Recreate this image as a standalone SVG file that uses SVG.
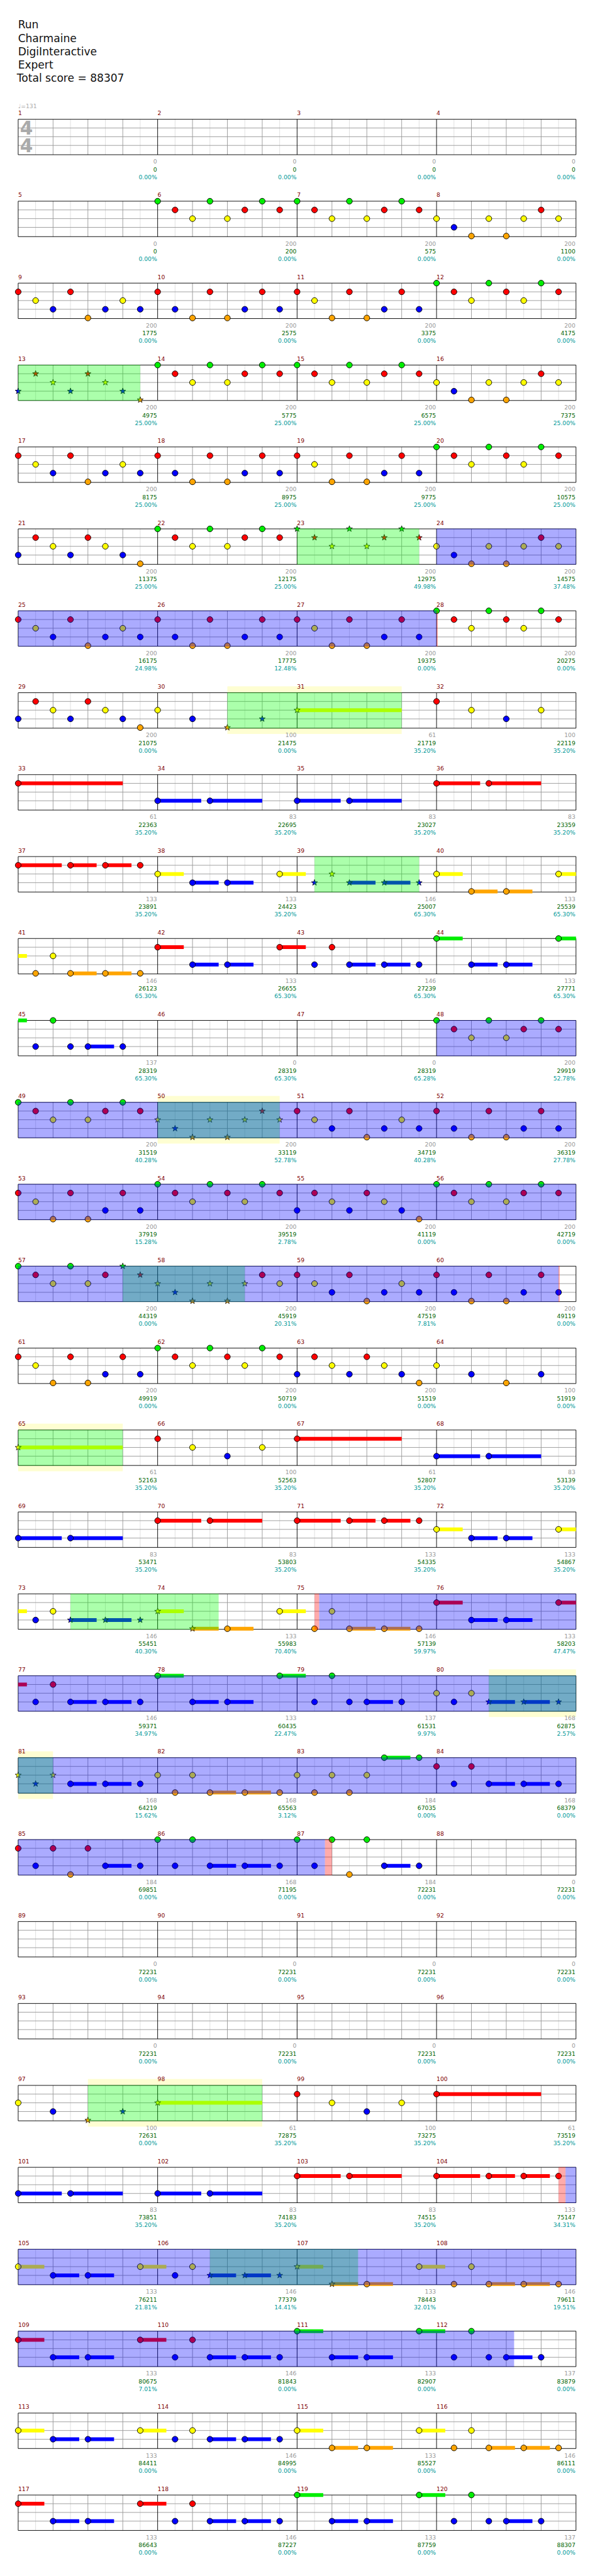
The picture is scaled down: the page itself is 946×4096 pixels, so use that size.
<svg xmlns="http://www.w3.org/2000/svg" xmlns:xlink="http://www.w3.org/1999/xlink" width="946" height="4096" viewBox="0 0 946 4096">
<style>
.hd{font:18.5px "DejaVu Sans",sans-serif;fill:#111}
.mn{font:10px "DejaVu Sans",sans-serif;fill:#800000}
.t1,.t2,.t3{font:10px "DejaVu Sans",sans-serif;text-anchor:end}
.t1{fill:#999}.t2{fill:#006400}.t3{fill:#009999}
.s{stroke-width:6.5;fill:none}
.Lg{stroke:#00ee00}.Lr{stroke:#f00}.Ly{stroke:#ff0}.Lb{stroke:#00f}.Lo{stroke:#ffa500}
.og{fill:#00ff00;fill-opacity:.33}.ob{fill:#0000ff;fill-opacity:.33}.op{fill:#ff0000;fill-opacity:.33}.yb{fill:#fefed2}
</style>
<defs>
<g id="grid">
<rect width="960" height="61" fill="#fff"/>
<path stroke="#ddd" d="M30 0V61M90 0V61M150 0V61M210 0V61M270 0V61M330 0V61M390 0V61M450 0V61M510 0V61M570 0V61M630 0V61M690 0V61M750 0V61M810 0V61M870 0V61M930 0V61"/>
<path stroke="#999" d="M60 0V61M120 0V61M180 0V61M300 0V61M360 0V61M420 0V61M540 0V61M600 0V61M660 0V61M780 0V61M840 0V61M900 0V61M0 15H960M0 30H960M0 45H960"/>
<path stroke="#000" fill="none" d="M0 0H960V61H0ZM240 0V61M480 0V61M720 0V61"/>
</g>
<circle id="g" r="5" fill="#00ee00" stroke="#000"/>
<circle id="r" r="5" fill="#f00" stroke="#000"/>
<circle id="y" r="5" fill="#ff0" stroke="#000"/>
<circle id="b" r="5" fill="#00f" stroke="#000"/>
<circle id="o" r="5" fill="#ffa500" stroke="#000"/>
<path id="star" d="M0,-5.5L1.29,-1.78L5.23,-1.7L2.09,0.68L3.23,4.45L0,2.2L-3.23,4.45L-2.09,0.68L-5.23,-1.7L-1.29,-1.78Z" stroke="#000" stroke-width="0.8"/>
<use id="sg" href="#star" fill="#00ee00"/>
<use id="sr" href="#star" fill="#f00"/>
<use id="sy" href="#star" fill="#ff0"/>
<use id="sb" href="#star" fill="#00f"/>
<use id="so" href="#star" fill="#ffa500"/>
</defs>
<rect width="946" height="4096" fill="#fff"/>
<g transform="scale(0.923828)">
<g id="header">
<text class="hd" x="31" y="49">Run</text>
<text class="hd" x="31" y="72">Charmaine</text>
<text class="hd" x="31" y="95">DigiInteractive</text>
<text class="hd" x="31" y="118">Expert</text>
<text class="hd" x="29" y="141">Total score = 88307</text>
</g>

<g id="row0" transform="translate(31.3 205.3)">
<use href="#grid"/>
<text x="0" y="-19.5" style="font:10px 'DejaVu Sans',sans-serif;fill:#aaa">♩=131</text>
<text x="3" y="26.7" style="font:bold 32px 'DejaVu Sans',sans-serif;fill:#aaa">4</text>
<text x="3" y="56.7" style="font:bold 32px 'DejaVu Sans',sans-serif;fill:#aaa">4</text>
<text class="mn" y="-7"><tspan x="0">1</tspan><tspan x="240">2</tspan><tspan x="480">3</tspan><tspan x="720">4</tspan></text>
<text class="t1" y="76.5"><tspan x="239">0</tspan><tspan x="479">0</tspan><tspan x="719">0</tspan><tspan x="959">0</tspan></text>
<text class="t2" y="90"><tspan x="239">0</tspan><tspan x="479">0</tspan><tspan x="719">0</tspan><tspan x="959">0</tspan></text>
<text class="t3" y="103"><tspan x="239">0.00%</tspan><tspan x="479">0.00%</tspan><tspan x="719">0.00%</tspan><tspan x="959">0.00%</tspan></text>
</g>

<g id="row1" transform="translate(31.3 346.3)">
<use href="#grid"/>
<use href="#g" x="240" y="0"/><use href="#r" x="270" y="15"/><use href="#y" x="300" y="30"/><use href="#g" x="330" y="0"/><use href="#y" x="360" y="30"/><use href="#r" x="390" y="15"/><use href="#g" x="420" y="0"/><use href="#r" x="450" y="15"/><use href="#g" x="480" y="0"/><use href="#r" x="510" y="15"/><use href="#y" x="540" y="30"/><use href="#g" x="570" y="0"/><use href="#y" x="600" y="30"/><use href="#r" x="630" y="15"/><use href="#g" x="660" y="0"/><use href="#r" x="690" y="15"/><use href="#y" x="720" y="30"/><use href="#b" x="750" y="45"/><use href="#o" x="780" y="60"/><use href="#y" x="810" y="30"/><use href="#o" x="840" y="60"/><use href="#y" x="870" y="30"/><use href="#r" x="900" y="15"/><use href="#y" x="930" y="30"/>
<text class="mn" y="-7"><tspan x="0">5</tspan><tspan x="240">6</tspan><tspan x="480">7</tspan><tspan x="720">8</tspan></text>
<text class="t1" y="76.5"><tspan x="239">0</tspan><tspan x="479">200</tspan><tspan x="719">200</tspan><tspan x="959">200</tspan></text>
<text class="t2" y="90"><tspan x="239">0</tspan><tspan x="479">200</tspan><tspan x="719">575</tspan><tspan x="959">1100</tspan></text>
<text class="t3" y="103"><tspan x="239">0.00%</tspan><tspan x="479">0.00%</tspan><tspan x="719">0.00%</tspan><tspan x="959">0.00%</tspan></text>
</g>

<g id="row2" transform="translate(31.3 487.3)">
<use href="#grid"/>
<use href="#r" x="0" y="15"/><use href="#y" x="30" y="30"/><use href="#b" x="60" y="45"/><use href="#r" x="90" y="15"/><use href="#o" x="120" y="60"/><use href="#b" x="150" y="45"/><use href="#y" x="180" y="30"/><use href="#b" x="210" y="45"/><use href="#r" x="240" y="15"/><use href="#b" x="270" y="45"/><use href="#o" x="300" y="60"/><use href="#r" x="330" y="15"/><use href="#o" x="360" y="60"/><use href="#b" x="390" y="45"/><use href="#r" x="420" y="15"/><use href="#b" x="450" y="45"/><use href="#r" x="480" y="15"/><use href="#y" x="510" y="30"/><use href="#o" x="540" y="60"/><use href="#r" x="570" y="15"/><use href="#o" x="600" y="60"/><use href="#b" x="630" y="45"/><use href="#r" x="660" y="15"/><use href="#b" x="690" y="45"/><use href="#g" x="720" y="0"/><use href="#r" x="750" y="15"/><use href="#y" x="780" y="30"/><use href="#g" x="810" y="0"/><use href="#r" x="840" y="15"/><use href="#y" x="870" y="30"/><use href="#g" x="900" y="0"/><use href="#r" x="930" y="15"/>
<text class="mn" y="-7"><tspan x="0">9</tspan><tspan x="240">10</tspan><tspan x="480">11</tspan><tspan x="720">12</tspan></text>
<text class="t1" y="76.5"><tspan x="239">200</tspan><tspan x="479">200</tspan><tspan x="719">200</tspan><tspan x="959">200</tspan></text>
<text class="t2" y="90"><tspan x="239">1775</tspan><tspan x="479">2575</tspan><tspan x="719">3375</tspan><tspan x="959">4175</tspan></text>
<text class="t3" y="103"><tspan x="239">0.00%</tspan><tspan x="479">0.00%</tspan><tspan x="719">0.00%</tspan><tspan x="959">0.00%</tspan></text>
</g>

<g id="row3" transform="translate(31.3 628.3)">
<use href="#grid"/>
<use href="#sb" x="0" y="45"/><use href="#sr" x="30" y="15"/><use href="#sy" x="60" y="30"/><use href="#sb" x="90" y="45"/><use href="#sr" x="120" y="15"/><use href="#sy" x="150" y="30"/><use href="#sb" x="180" y="45"/><use href="#so" x="210" y="60"/>
<use href="#g" x="240" y="0"/><use href="#r" x="270" y="15"/><use href="#y" x="300" y="30"/><use href="#g" x="330" y="0"/><use href="#y" x="360" y="30"/><use href="#r" x="390" y="15"/><use href="#g" x="420" y="0"/><use href="#r" x="450" y="15"/><use href="#g" x="480" y="0"/><use href="#r" x="510" y="15"/><use href="#y" x="540" y="30"/><use href="#g" x="570" y="0"/><use href="#y" x="600" y="30"/><use href="#r" x="630" y="15"/><use href="#g" x="660" y="0"/><use href="#r" x="690" y="15"/><use href="#y" x="720" y="30"/><use href="#b" x="750" y="45"/><use href="#o" x="780" y="60"/><use href="#y" x="810" y="30"/><use href="#o" x="840" y="60"/><use href="#y" x="870" y="30"/><use href="#r" x="900" y="15"/><use href="#y" x="930" y="30"/>
<rect class="og" x="0" y="-0.5" width="210" height="62"/>
<text class="mn" y="-7"><tspan x="0">13</tspan><tspan x="240">14</tspan><tspan x="480">15</tspan><tspan x="720">16</tspan></text>
<text class="t1" y="76.5"><tspan x="239">200</tspan><tspan x="479">200</tspan><tspan x="719">200</tspan><tspan x="959">200</tspan></text>
<text class="t2" y="90"><tspan x="239">4975</tspan><tspan x="479">5775</tspan><tspan x="719">6575</tspan><tspan x="959">7375</tspan></text>
<text class="t3" y="103"><tspan x="239">25.00%</tspan><tspan x="479">25.00%</tspan><tspan x="719">25.00%</tspan><tspan x="959">25.00%</tspan></text>
</g>

<g id="row4" transform="translate(31.3 769.3)">
<use href="#grid"/>
<use href="#r" x="0" y="15"/><use href="#y" x="30" y="30"/><use href="#b" x="60" y="45"/><use href="#r" x="90" y="15"/><use href="#o" x="120" y="60"/><use href="#b" x="150" y="45"/><use href="#y" x="180" y="30"/><use href="#b" x="210" y="45"/><use href="#r" x="240" y="15"/><use href="#b" x="270" y="45"/><use href="#o" x="300" y="60"/><use href="#r" x="330" y="15"/><use href="#o" x="360" y="60"/><use href="#b" x="390" y="45"/><use href="#r" x="420" y="15"/><use href="#b" x="450" y="45"/><use href="#r" x="480" y="15"/><use href="#y" x="510" y="30"/><use href="#o" x="540" y="60"/><use href="#r" x="570" y="15"/><use href="#o" x="600" y="60"/><use href="#b" x="630" y="45"/><use href="#r" x="660" y="15"/><use href="#b" x="690" y="45"/><use href="#g" x="720" y="0"/><use href="#r" x="750" y="15"/><use href="#y" x="780" y="30"/><use href="#g" x="810" y="0"/><use href="#r" x="840" y="15"/><use href="#y" x="870" y="30"/><use href="#g" x="900" y="0"/><use href="#r" x="930" y="15"/>
<text class="mn" y="-7"><tspan x="0">17</tspan><tspan x="240">18</tspan><tspan x="480">19</tspan><tspan x="720">20</tspan></text>
<text class="t1" y="76.5"><tspan x="239">200</tspan><tspan x="479">200</tspan><tspan x="719">200</tspan><tspan x="959">200</tspan></text>
<text class="t2" y="90"><tspan x="239">8175</tspan><tspan x="479">8975</tspan><tspan x="719">9775</tspan><tspan x="959">10575</tspan></text>
<text class="t3" y="103"><tspan x="239">25.00%</tspan><tspan x="479">25.00%</tspan><tspan x="719">25.00%</tspan><tspan x="959">25.00%</tspan></text>
</g>

<g id="row5" transform="translate(31.3 910.3)">
<use href="#grid"/>
<use href="#b" x="0" y="45"/><use href="#r" x="30" y="15"/><use href="#y" x="60" y="30"/><use href="#b" x="90" y="45"/><use href="#r" x="120" y="15"/><use href="#y" x="150" y="30"/><use href="#b" x="180" y="45"/><use href="#o" x="210" y="60"/><use href="#g" x="240" y="0"/><use href="#r" x="270" y="15"/><use href="#y" x="300" y="30"/><use href="#g" x="330" y="0"/><use href="#y" x="360" y="30"/><use href="#r" x="390" y="15"/><use href="#g" x="420" y="0"/><use href="#r" x="450" y="15"/>
<use href="#sg" x="480" y="0"/><use href="#sr" x="510" y="15"/><use href="#sy" x="540" y="30"/><use href="#sg" x="570" y="0"/><use href="#sy" x="600" y="30"/><use href="#sr" x="630" y="15"/><use href="#sg" x="660" y="0"/><use href="#sr" x="690" y="15"/>
<use href="#y" x="720" y="30"/><use href="#b" x="750" y="45"/><use href="#o" x="780" y="60"/><use href="#y" x="810" y="30"/><use href="#o" x="840" y="60"/><use href="#y" x="870" y="30"/><use href="#r" x="900" y="15"/><use href="#y" x="930" y="30"/>
<rect class="og" x="480" y="-0.5" width="210" height="62"/>
<rect class="ob" x="720" y="-0.5" width="240" height="62"/>
<text class="mn" y="-7"><tspan x="0">21</tspan><tspan x="240">22</tspan><tspan x="480">23</tspan><tspan x="720">24</tspan></text>
<text class="t1" y="76.5"><tspan x="239">200</tspan><tspan x="479">200</tspan><tspan x="719">200</tspan><tspan x="959">200</tspan></text>
<text class="t2" y="90"><tspan x="239">11375</tspan><tspan x="479">12175</tspan><tspan x="719">12975</tspan><tspan x="959">14575</tspan></text>
<text class="t3" y="103"><tspan x="239">25.00%</tspan><tspan x="479">25.00%</tspan><tspan x="719">49.98%</tspan><tspan x="959">37.48%</tspan></text>
</g>

<g id="row6" transform="translate(31.3 1051.3)">
<use href="#grid"/>
<use href="#r" x="0" y="15"/><use href="#y" x="30" y="30"/><use href="#b" x="60" y="45"/><use href="#r" x="90" y="15"/><use href="#o" x="120" y="60"/><use href="#b" x="150" y="45"/><use href="#y" x="180" y="30"/><use href="#b" x="210" y="45"/><use href="#r" x="240" y="15"/><use href="#b" x="270" y="45"/><use href="#o" x="300" y="60"/><use href="#r" x="330" y="15"/><use href="#o" x="360" y="60"/><use href="#b" x="390" y="45"/><use href="#r" x="420" y="15"/><use href="#b" x="450" y="45"/><use href="#r" x="480" y="15"/><use href="#y" x="510" y="30"/><use href="#o" x="540" y="60"/><use href="#r" x="570" y="15"/><use href="#o" x="600" y="60"/><use href="#b" x="630" y="45"/><use href="#r" x="660" y="15"/><use href="#b" x="690" y="45"/><use href="#g" x="720" y="0"/><use href="#r" x="750" y="15"/><use href="#y" x="780" y="30"/><use href="#g" x="810" y="0"/><use href="#r" x="840" y="15"/><use href="#y" x="870" y="30"/><use href="#g" x="900" y="0"/><use href="#r" x="930" y="15"/>
<rect class="ob" x="0" y="-0.5" width="720" height="62"/>
<rect class="op" x="720" y="-0.5" width="2" height="62"/>
<text class="mn" y="-7"><tspan x="0">25</tspan><tspan x="240">26</tspan><tspan x="480">27</tspan><tspan x="720">28</tspan></text>
<text class="t1" y="76.5"><tspan x="239">200</tspan><tspan x="479">200</tspan><tspan x="719">200</tspan><tspan x="959">200</tspan></text>
<text class="t2" y="90"><tspan x="239">16175</tspan><tspan x="479">17775</tspan><tspan x="719">19375</tspan><tspan x="959">20275</tspan></text>
<text class="t3" y="103"><tspan x="239">24.98%</tspan><tspan x="479">12.48%</tspan><tspan x="719">0.00%</tspan><tspan x="959">0.00%</tspan></text>
</g>

<g id="row7" transform="translate(31.3 1192.3)">
<rect class="yb" x="360" y="-11" width="300" height="82"/>
<use href="#grid"/>
<path class="s Ly" d="M480 30H660"/>
<use href="#b" x="0" y="45"/><use href="#r" x="30" y="15"/><use href="#y" x="60" y="30"/><use href="#b" x="90" y="45"/><use href="#r" x="120" y="15"/><use href="#y" x="150" y="30"/><use href="#b" x="180" y="45"/><use href="#o" x="210" y="60"/><use href="#y" x="240" y="30"/><use href="#b" x="300" y="45"/><use href="#so" x="360" y="60"/><use href="#sb" x="420" y="45"/><use href="#sy" x="480" y="30"/><use href="#r" x="720" y="15"/><use href="#y" x="780" y="30"/><use href="#b" x="840" y="45"/><use href="#y" x="900" y="30"/>
<rect class="og" x="360" y="-0.5" width="300" height="62"/>
<text class="mn" y="-7"><tspan x="0">29</tspan><tspan x="240">30</tspan><tspan x="480">31</tspan><tspan x="720">32</tspan></text>
<text class="t1" y="76.5"><tspan x="239">200</tspan><tspan x="479">100</tspan><tspan x="719">61</tspan><tspan x="959">100</tspan></text>
<text class="t2" y="90"><tspan x="239">21075</tspan><tspan x="479">21475</tspan><tspan x="719">21719</tspan><tspan x="959">22119</tspan></text>
<text class="t3" y="103"><tspan x="239">0.00%</tspan><tspan x="479">0.00%</tspan><tspan x="719">35.20%</tspan><tspan x="959">35.20%</tspan></text>
</g>

<g id="row8" transform="translate(31.3 1333.3)">
<use href="#grid"/>
<path class="s Lr" d="M0 15H180M720 15H795M810 15H900"/>
<path class="s Lb" d="M240 45H315M330 45H420M480 45H555M570 45H660"/>
<use href="#r" x="0" y="15"/><use href="#b" x="240" y="45"/><use href="#b" x="330" y="45"/><use href="#b" x="480" y="45"/><use href="#b" x="570" y="45"/><use href="#r" x="720" y="15"/><use href="#r" x="810" y="15"/>
<text class="mn" y="-7"><tspan x="0">33</tspan><tspan x="240">34</tspan><tspan x="480">35</tspan><tspan x="720">36</tspan></text>
<text class="t1" y="76.5"><tspan x="239">61</tspan><tspan x="479">83</tspan><tspan x="719">83</tspan><tspan x="959">83</tspan></text>
<text class="t2" y="90"><tspan x="239">22363</tspan><tspan x="479">22695</tspan><tspan x="719">23027</tspan><tspan x="959">23359</tspan></text>
<text class="t3" y="103"><tspan x="239">35.20%</tspan><tspan x="479">35.20%</tspan><tspan x="719">35.20%</tspan><tspan x="959">35.20%</tspan></text>
</g>

<g id="row9" transform="translate(31.3 1474.3)">
<use href="#grid"/>
<path class="s Lr" d="M0 15H75M90 15H135M150 15H195"/>
<path class="s Ly" d="M240 30H285M450 30H495M720 30H765M930 30H960"/>
<path class="s Lb" d="M300 45H345M360 45H405M570 45H615M630 45H675"/>
<path class="s Lo" d="M780 60H825M840 60H885"/>
<use href="#r" x="0" y="15"/><use href="#r" x="90" y="15"/><use href="#r" x="150" y="15"/><use href="#r" x="210" y="15"/><use href="#y" x="240" y="30"/><use href="#b" x="300" y="45"/><use href="#b" x="360" y="45"/><use href="#y" x="450" y="30"/><use href="#sb" x="510" y="45"/><use href="#sy" x="540" y="30"/><use href="#sb" x="570" y="45"/><use href="#sb" x="630" y="45"/><use href="#sb" x="690" y="45"/><use href="#y" x="720" y="30"/><use href="#o" x="780" y="60"/><use href="#o" x="840" y="60"/><use href="#y" x="930" y="30"/>
<rect class="og" x="510" y="-0.5" width="180" height="62"/>
<text class="mn" y="-7"><tspan x="0">37</tspan><tspan x="240">38</tspan><tspan x="480">39</tspan><tspan x="720">40</tspan></text>
<text class="t1" y="76.5"><tspan x="239">133</tspan><tspan x="479">133</tspan><tspan x="719">146</tspan><tspan x="959">133</tspan></text>
<text class="t2" y="90"><tspan x="239">23891</tspan><tspan x="479">24423</tspan><tspan x="719">25007</tspan><tspan x="959">25539</tspan></text>
<text class="t3" y="103"><tspan x="239">35.20%</tspan><tspan x="479">35.20%</tspan><tspan x="719">65.30%</tspan><tspan x="959">65.30%</tspan></text>
</g>

<g id="row10" transform="translate(31.3 1615.3)">
<use href="#grid"/>
<path class="s Ly" d="M0 30H15"/>
<path class="s Lo" d="M90 60H135M150 60H195"/>
<path class="s Lr" d="M240 15H285M450 15H495"/>
<path class="s Lb" d="M300 45H345M360 45H405M570 45H615M630 45H675M780 45H825M840 45H885"/>
<path class="s Lg" d="M720 0H765M930 0H960"/>
<use href="#o" x="30" y="60"/><use href="#y" x="60" y="30"/><use href="#o" x="90" y="60"/><use href="#o" x="150" y="60"/><use href="#o" x="210" y="60"/><use href="#r" x="240" y="15"/><use href="#b" x="300" y="45"/><use href="#b" x="360" y="45"/><use href="#r" x="450" y="15"/><use href="#b" x="510" y="45"/><use href="#r" x="540" y="15"/><use href="#b" x="570" y="45"/><use href="#b" x="630" y="45"/><use href="#b" x="690" y="45"/><use href="#g" x="720" y="0"/><use href="#b" x="780" y="45"/><use href="#b" x="840" y="45"/><use href="#g" x="930" y="0"/>
<text class="mn" y="-7"><tspan x="0">41</tspan><tspan x="240">42</tspan><tspan x="480">43</tspan><tspan x="720">44</tspan></text>
<text class="t1" y="76.5"><tspan x="239">146</tspan><tspan x="479">133</tspan><tspan x="719">146</tspan><tspan x="959">133</tspan></text>
<text class="t2" y="90"><tspan x="239">26123</tspan><tspan x="479">26655</tspan><tspan x="719">27239</tspan><tspan x="959">27771</tspan></text>
<text class="t3" y="103"><tspan x="239">65.30%</tspan><tspan x="479">65.30%</tspan><tspan x="719">65.30%</tspan><tspan x="959">65.30%</tspan></text>
</g>

<g id="row11" transform="translate(31.3 1756.3)">
<use href="#grid"/>
<path class="s Lg" d="M0 0H15"/>
<path class="s Lb" d="M120 45H165"/>
<use href="#b" x="30" y="45"/><use href="#g" x="60" y="0"/><use href="#b" x="90" y="45"/><use href="#b" x="120" y="45"/><use href="#b" x="180" y="45"/><use href="#g" x="720" y="0"/><use href="#r" x="750" y="15"/><use href="#y" x="780" y="30"/><use href="#g" x="810" y="0"/><use href="#y" x="840" y="30"/><use href="#r" x="870" y="15"/><use href="#g" x="900" y="0"/><use href="#r" x="930" y="15"/>
<rect class="ob" x="720" y="-0.5" width="240" height="62"/>
<text class="mn" y="-7"><tspan x="0">45</tspan><tspan x="240">46</tspan><tspan x="480">47</tspan><tspan x="720">48</tspan></text>
<text class="t1" y="76.5"><tspan x="239">137</tspan><tspan x="479">0</tspan><tspan x="719">0</tspan><tspan x="959">200</tspan></text>
<text class="t2" y="90"><tspan x="239">28319</tspan><tspan x="479">28319</tspan><tspan x="719">28319</tspan><tspan x="959">29919</tspan></text>
<text class="t3" y="103"><tspan x="239">65.30%</tspan><tspan x="479">65.30%</tspan><tspan x="719">65.28%</tspan><tspan x="959">52.78%</tspan></text>
</g>

<g id="row12" transform="translate(31.3 1897.3)">
<rect class="yb" x="240" y="-11" width="210" height="82"/>
<use href="#grid"/>
<use href="#g" x="0" y="0"/><use href="#r" x="30" y="15"/><use href="#y" x="60" y="30"/><use href="#g" x="90" y="0"/><use href="#y" x="120" y="30"/><use href="#r" x="150" y="15"/><use href="#g" x="180" y="0"/><use href="#r" x="210" y="15"/>
<use href="#sy" x="240" y="30"/><use href="#sb" x="270" y="45"/><use href="#so" x="300" y="60"/><use href="#sy" x="330" y="30"/><use href="#so" x="360" y="60"/><use href="#sy" x="390" y="30"/><use href="#sr" x="420" y="15"/><use href="#sy" x="450" y="30"/>
<use href="#r" x="480" y="15"/><use href="#y" x="510" y="30"/><use href="#b" x="540" y="45"/><use href="#r" x="570" y="15"/><use href="#o" x="600" y="60"/><use href="#b" x="630" y="45"/><use href="#y" x="660" y="30"/><use href="#b" x="690" y="45"/><use href="#r" x="720" y="15"/><use href="#b" x="750" y="45"/><use href="#o" x="780" y="60"/><use href="#r" x="810" y="15"/><use href="#o" x="840" y="60"/><use href="#b" x="870" y="45"/><use href="#r" x="900" y="15"/><use href="#b" x="930" y="45"/>
<rect class="og" x="240" y="-0.5" width="210" height="62"/>
<rect class="ob" x="0" y="-0.5" width="960" height="62"/>
<text class="mn" y="-7"><tspan x="0">49</tspan><tspan x="240">50</tspan><tspan x="480">51</tspan><tspan x="720">52</tspan></text>
<text class="t1" y="76.5"><tspan x="239">200</tspan><tspan x="479">200</tspan><tspan x="719">200</tspan><tspan x="959">200</tspan></text>
<text class="t2" y="90"><tspan x="239">31519</tspan><tspan x="479">33119</tspan><tspan x="719">34719</tspan><tspan x="959">36319</tspan></text>
<text class="t3" y="103"><tspan x="239">40.28%</tspan><tspan x="479">52.78%</tspan><tspan x="719">40.28%</tspan><tspan x="959">27.78%</tspan></text>
</g>

<g id="row13" transform="translate(31.3 2038.3)">
<use href="#grid"/>
<use href="#r" x="0" y="15"/><use href="#y" x="30" y="30"/><use href="#o" x="60" y="60"/><use href="#r" x="90" y="15"/><use href="#o" x="120" y="60"/><use href="#b" x="150" y="45"/><use href="#r" x="180" y="15"/><use href="#b" x="210" y="45"/><use href="#g" x="240" y="0"/><use href="#r" x="270" y="15"/><use href="#y" x="300" y="30"/><use href="#g" x="330" y="0"/><use href="#r" x="360" y="15"/><use href="#y" x="390" y="30"/><use href="#g" x="420" y="0"/><use href="#r" x="450" y="15"/><use href="#b" x="480" y="45"/><use href="#r" x="510" y="15"/><use href="#y" x="540" y="30"/><use href="#b" x="570" y="45"/><use href="#r" x="600" y="15"/><use href="#y" x="630" y="30"/><use href="#b" x="660" y="45"/><use href="#o" x="690" y="60"/><use href="#g" x="720" y="0"/><use href="#r" x="750" y="15"/><use href="#y" x="780" y="30"/><use href="#g" x="810" y="0"/><use href="#y" x="840" y="30"/><use href="#r" x="870" y="15"/><use href="#g" x="900" y="0"/><use href="#r" x="930" y="15"/>
<rect class="ob" x="0" y="-0.5" width="960" height="62"/>
<text class="mn" y="-7"><tspan x="0">53</tspan><tspan x="240">54</tspan><tspan x="480">55</tspan><tspan x="720">56</tspan></text>
<text class="t1" y="76.5"><tspan x="239">200</tspan><tspan x="479">200</tspan><tspan x="719">200</tspan><tspan x="959">200</tspan></text>
<text class="t2" y="90"><tspan x="239">37919</tspan><tspan x="479">39519</tspan><tspan x="719">41119</tspan><tspan x="959">42719</tspan></text>
<text class="t3" y="103"><tspan x="239">15.28%</tspan><tspan x="479">2.78%</tspan><tspan x="719">0.00%</tspan><tspan x="959">0.00%</tspan></text>
</g>

<g id="row14" transform="translate(31.3 2179.3)">
<use href="#grid"/>
<use href="#g" x="0" y="0"/><use href="#r" x="30" y="15"/><use href="#y" x="60" y="30"/><use href="#g" x="90" y="0"/><use href="#y" x="120" y="30"/><use href="#r" x="150" y="15"/>
<use href="#sg" x="180" y="0"/><use href="#sr" x="210" y="15"/><use href="#sy" x="240" y="30"/><use href="#sb" x="270" y="45"/><use href="#so" x="300" y="60"/><use href="#sy" x="330" y="30"/><use href="#so" x="360" y="60"/><use href="#sy" x="390" y="30"/>
<use href="#r" x="420" y="15"/><use href="#y" x="450" y="30"/><use href="#r" x="480" y="15"/><use href="#y" x="510" y="30"/><use href="#b" x="540" y="45"/><use href="#r" x="570" y="15"/><use href="#o" x="600" y="60"/><use href="#b" x="630" y="45"/><use href="#y" x="660" y="30"/><use href="#b" x="690" y="45"/><use href="#r" x="720" y="15"/><use href="#b" x="750" y="45"/><use href="#o" x="780" y="60"/><use href="#r" x="810" y="15"/><use href="#o" x="840" y="60"/><use href="#b" x="870" y="45"/><use href="#r" x="900" y="15"/><use href="#b" x="930" y="45"/>
<rect class="og" x="180" y="-0.5" width="210" height="62"/>
<rect class="ob" x="0" y="-0.5" width="930" height="62"/>
<rect class="op" x="930" y="-0.5" width="2" height="62"/>
<text class="mn" y="-7"><tspan x="0">57</tspan><tspan x="240">58</tspan><tspan x="480">59</tspan><tspan x="720">60</tspan></text>
<text class="t1" y="76.5"><tspan x="239">200</tspan><tspan x="479">200</tspan><tspan x="719">200</tspan><tspan x="959">200</tspan></text>
<text class="t2" y="90"><tspan x="239">44319</tspan><tspan x="479">45919</tspan><tspan x="719">47519</tspan><tspan x="959">49119</tspan></text>
<text class="t3" y="103"><tspan x="239">0.00%</tspan><tspan x="479">20.31%</tspan><tspan x="719">7.81%</tspan><tspan x="959">0.00%</tspan></text>
</g>

<g id="row15" transform="translate(31.3 2320.3)">
<use href="#grid"/>
<use href="#r" x="0" y="15"/><use href="#y" x="30" y="30"/><use href="#o" x="60" y="60"/><use href="#r" x="90" y="15"/><use href="#o" x="120" y="60"/><use href="#b" x="150" y="45"/><use href="#r" x="180" y="15"/><use href="#b" x="210" y="45"/><use href="#g" x="240" y="0"/><use href="#r" x="270" y="15"/><use href="#y" x="300" y="30"/><use href="#g" x="330" y="0"/><use href="#r" x="360" y="15"/><use href="#y" x="390" y="30"/><use href="#g" x="420" y="0"/><use href="#r" x="450" y="15"/><use href="#b" x="480" y="45"/><use href="#r" x="510" y="15"/><use href="#y" x="540" y="30"/><use href="#b" x="570" y="45"/><use href="#r" x="600" y="15"/><use href="#y" x="630" y="30"/><use href="#b" x="660" y="45"/><use href="#o" x="690" y="60"/><use href="#y" x="720" y="30"/><use href="#b" x="780" y="45"/><use href="#o" x="840" y="60"/><use href="#b" x="900" y="45"/>
<text class="mn" y="-7"><tspan x="0">61</tspan><tspan x="240">62</tspan><tspan x="480">63</tspan><tspan x="720">64</tspan></text>
<text class="t1" y="76.5"><tspan x="239">200</tspan><tspan x="479">200</tspan><tspan x="719">200</tspan><tspan x="959">100</tspan></text>
<text class="t2" y="90"><tspan x="239">49919</tspan><tspan x="479">50719</tspan><tspan x="719">51519</tspan><tspan x="959">51919</tspan></text>
<text class="t3" y="103"><tspan x="239">0.00%</tspan><tspan x="479">0.00%</tspan><tspan x="719">0.00%</tspan><tspan x="959">0.00%</tspan></text>
</g>

<g id="row16" transform="translate(31.3 2461.3)">
<rect class="yb" x="0" y="-11" width="180" height="82"/>
<use href="#grid"/>
<path class="s Ly" d="M0 30H180"/>
<path class="s Lr" d="M480 15H660"/>
<path class="s Lb" d="M720 45H795M810 45H900"/>
<use href="#sy" x="0" y="30"/><use href="#r" x="240" y="15"/><use href="#y" x="300" y="30"/><use href="#b" x="360" y="45"/><use href="#y" x="420" y="30"/><use href="#r" x="480" y="15"/><use href="#b" x="720" y="45"/><use href="#b" x="810" y="45"/>
<rect class="og" x="0" y="-0.5" width="180" height="62"/>
<text class="mn" y="-7"><tspan x="0">65</tspan><tspan x="240">66</tspan><tspan x="480">67</tspan><tspan x="720">68</tspan></text>
<text class="t1" y="76.5"><tspan x="239">61</tspan><tspan x="479">100</tspan><tspan x="719">61</tspan><tspan x="959">83</tspan></text>
<text class="t2" y="90"><tspan x="239">52163</tspan><tspan x="479">52563</tspan><tspan x="719">52807</tspan><tspan x="959">53139</tspan></text>
<text class="t3" y="103"><tspan x="239">35.20%</tspan><tspan x="479">35.20%</tspan><tspan x="719">35.20%</tspan><tspan x="959">35.20%</tspan></text>
</g>

<g id="row17" transform="translate(31.3 2602.3)">
<use href="#grid"/>
<path class="s Lb" d="M0 45H75M90 45H180M780 45H825M840 45H885"/>
<path class="s Lr" d="M240 15H315M330 15H420M480 15H555M570 15H615M630 15H675"/>
<path class="s Ly" d="M720 30H765M930 30H960"/>
<use href="#b" x="0" y="45"/><use href="#b" x="90" y="45"/><use href="#r" x="240" y="15"/><use href="#r" x="330" y="15"/><use href="#r" x="480" y="15"/><use href="#r" x="570" y="15"/><use href="#r" x="630" y="15"/><use href="#r" x="690" y="15"/><use href="#y" x="720" y="30"/><use href="#b" x="780" y="45"/><use href="#b" x="840" y="45"/><use href="#y" x="930" y="30"/>
<text class="mn" y="-7"><tspan x="0">69</tspan><tspan x="240">70</tspan><tspan x="480">71</tspan><tspan x="720">72</tspan></text>
<text class="t1" y="76.5"><tspan x="239">83</tspan><tspan x="479">83</tspan><tspan x="719">133</tspan><tspan x="959">133</tspan></text>
<text class="t2" y="90"><tspan x="239">53471</tspan><tspan x="479">53803</tspan><tspan x="719">54335</tspan><tspan x="959">54867</tspan></text>
<text class="t3" y="103"><tspan x="239">35.20%</tspan><tspan x="479">35.20%</tspan><tspan x="719">35.20%</tspan><tspan x="959">35.20%</tspan></text>
</g>

<g id="row18" transform="translate(31.3 2743.3)">
<use href="#grid"/>
<path class="s Ly" d="M0 30H15M240 30H285M450 30H495"/>
<path class="s Lb" d="M90 45H135M150 45H195M780 45H825M840 45H885"/>
<path class="s Lo" d="M300 60H345M360 60H405M570 60H615M630 60H675"/>
<path class="s Lr" d="M720 15H765M930 15H960"/>
<use href="#b" x="30" y="45"/><use href="#y" x="60" y="30"/><use href="#sb" x="90" y="45"/><use href="#sb" x="150" y="45"/><use href="#sb" x="210" y="45"/><use href="#sy" x="240" y="30"/><use href="#so" x="300" y="60"/><use href="#o" x="360" y="60"/><use href="#y" x="450" y="30"/><use href="#o" x="510" y="60"/><use href="#y" x="540" y="30"/><use href="#o" x="570" y="60"/><use href="#o" x="630" y="60"/><use href="#o" x="690" y="60"/><use href="#r" x="720" y="15"/><use href="#b" x="780" y="45"/><use href="#b" x="840" y="45"/><use href="#r" x="930" y="15"/>
<rect class="og" x="90" y="-0.5" width="255" height="62"/>
<rect class="op" x="510" y="-0.5" width="8" height="62"/>
<rect class="ob" x="518" y="-0.5" width="442" height="62"/>
<text class="mn" y="-7"><tspan x="0">73</tspan><tspan x="240">74</tspan><tspan x="480">75</tspan><tspan x="720">76</tspan></text>
<text class="t1" y="76.5"><tspan x="239">146</tspan><tspan x="479">133</tspan><tspan x="719">146</tspan><tspan x="959">133</tspan></text>
<text class="t2" y="90"><tspan x="239">55451</tspan><tspan x="479">55983</tspan><tspan x="719">57139</tspan><tspan x="959">58203</tspan></text>
<text class="t3" y="103"><tspan x="239">40.30%</tspan><tspan x="479">70.40%</tspan><tspan x="719">59.97%</tspan><tspan x="959">47.47%</tspan></text>
</g>

<g id="row19" transform="translate(31.3 2884.3)">
<rect class="yb" x="810" y="-11" width="150" height="82"/>
<use href="#grid"/>
<path class="s Lr" d="M0 15H15"/>
<path class="s Lb" d="M90 45H135M150 45H195M300 45H345M360 45H405M600 45H645M810 45H855M870 45H915"/>
<path class="s Lg" d="M240 0H285M450 0H495"/>
<use href="#b" x="30" y="45"/><use href="#r" x="60" y="15"/><use href="#b" x="90" y="45"/><use href="#b" x="150" y="45"/><use href="#b" x="210" y="45"/><use href="#g" x="240" y="0"/><use href="#b" x="300" y="45"/><use href="#b" x="360" y="45"/><use href="#g" x="450" y="0"/><use href="#b" x="510" y="45"/><use href="#g" x="540" y="0"/><use href="#b" x="570" y="45"/><use href="#b" x="600" y="45"/><use href="#b" x="660" y="45"/><use href="#y" x="720" y="30"/><use href="#b" x="750" y="45"/><use href="#y" x="780" y="30"/><use href="#sb" x="810" y="45"/><use href="#sb" x="870" y="45"/><use href="#sb" x="930" y="45"/>
<rect class="og" x="810" y="-0.5" width="150" height="62"/>
<rect class="ob" x="0" y="-0.5" width="960" height="62"/>
<text class="mn" y="-7"><tspan x="0">77</tspan><tspan x="240">78</tspan><tspan x="480">79</tspan><tspan x="720">80</tspan></text>
<text class="t1" y="76.5"><tspan x="239">146</tspan><tspan x="479">133</tspan><tspan x="719">137</tspan><tspan x="959">168</tspan></text>
<text class="t2" y="90"><tspan x="239">59371</tspan><tspan x="479">60435</tspan><tspan x="719">61531</tspan><tspan x="959">62875</tspan></text>
<text class="t3" y="103"><tspan x="239">34.97%</tspan><tspan x="479">22.47%</tspan><tspan x="719">9.97%</tspan><tspan x="959">2.57%</tspan></text>
</g>

<g id="row20" transform="translate(31.3 3025.3)">
<rect class="yb" x="0" y="-11" width="60" height="82"/>
<use href="#grid"/>
<path class="s Lb" d="M90 45H135M150 45H195M810 45H855M870 45H915"/>
<path class="s Lo" d="M330 60H375M390 60H435"/>
<path class="s Lg" d="M630 0H675"/>
<use href="#sy" x="0" y="30"/><use href="#sb" x="30" y="45"/><use href="#sy" x="60" y="30"/><use href="#b" x="90" y="45"/><use href="#b" x="150" y="45"/><use href="#b" x="210" y="45"/><use href="#y" x="240" y="30"/><use href="#o" x="270" y="60"/><use href="#y" x="300" y="30"/><use href="#o" x="330" y="60"/><use href="#o" x="390" y="60"/><use href="#o" x="450" y="60"/><use href="#y" x="480" y="30"/><use href="#o" x="510" y="60"/><use href="#y" x="540" y="30"/><use href="#o" x="570" y="60"/><use href="#y" x="600" y="30"/><use href="#g" x="630" y="0"/><use href="#g" x="690" y="0"/><use href="#r" x="720" y="15"/><use href="#b" x="750" y="45"/><use href="#r" x="780" y="15"/><use href="#b" x="810" y="45"/><use href="#b" x="870" y="45"/><use href="#b" x="930" y="45"/>
<rect class="og" x="0" y="-0.5" width="60" height="62"/>
<rect class="ob" x="0" y="-0.5" width="960" height="62"/>
<text class="mn" y="-7"><tspan x="0">81</tspan><tspan x="240">82</tspan><tspan x="480">83</tspan><tspan x="720">84</tspan></text>
<text class="t1" y="76.5"><tspan x="239">168</tspan><tspan x="479">168</tspan><tspan x="719">184</tspan><tspan x="959">168</tspan></text>
<text class="t2" y="90"><tspan x="239">64219</tspan><tspan x="479">65563</tspan><tspan x="719">67035</tspan><tspan x="959">68379</tspan></text>
<text class="t3" y="103"><tspan x="239">15.62%</tspan><tspan x="479">3.12%</tspan><tspan x="719">0.00%</tspan><tspan x="959">0.00%</tspan></text>
</g>

<g id="row21" transform="translate(31.3 3166.3)">
<use href="#grid"/>
<path class="s Lb" d="M150 45H195M330 45H375M390 45H435M630 45H675"/>
<use href="#r" x="0" y="15"/><use href="#b" x="30" y="45"/><use href="#r" x="60" y="15"/><use href="#o" x="90" y="60"/><use href="#r" x="120" y="15"/><use href="#b" x="150" y="45"/><use href="#b" x="210" y="45"/><use href="#g" x="240" y="0"/><use href="#b" x="270" y="45"/><use href="#g" x="300" y="0"/><use href="#b" x="330" y="45"/><use href="#b" x="390" y="45"/><use href="#b" x="450" y="45"/><use href="#g" x="480" y="0"/><use href="#b" x="510" y="45"/><use href="#g" x="540" y="0"/><use href="#o" x="570" y="60"/><use href="#g" x="600" y="0"/><use href="#b" x="630" y="45"/><use href="#b" x="690" y="45"/>
<rect class="ob" x="0" y="-0.5" width="528" height="62"/>
<rect class="op" x="528" y="-0.5" width="12" height="62"/>
<text class="mn" y="-7"><tspan x="0">85</tspan><tspan x="240">86</tspan><tspan x="480">87</tspan><tspan x="720">88</tspan></text>
<text class="t1" y="76.5"><tspan x="239">184</tspan><tspan x="479">168</tspan><tspan x="719">184</tspan><tspan x="959">0</tspan></text>
<text class="t2" y="90"><tspan x="239">69851</tspan><tspan x="479">71195</tspan><tspan x="719">72231</tspan><tspan x="959">72231</tspan></text>
<text class="t3" y="103"><tspan x="239">0.00%</tspan><tspan x="479">0.00%</tspan><tspan x="719">0.00%</tspan><tspan x="959">0.00%</tspan></text>
</g>

<g id="row22" transform="translate(31.3 3307.3)">
<use href="#grid"/>
<text class="mn" y="-7"><tspan x="0">89</tspan><tspan x="240">90</tspan><tspan x="480">91</tspan><tspan x="720">92</tspan></text>
<text class="t1" y="76.5"><tspan x="239">0</tspan><tspan x="479">0</tspan><tspan x="719">0</tspan><tspan x="959">0</tspan></text>
<text class="t2" y="90"><tspan x="239">72231</tspan><tspan x="479">72231</tspan><tspan x="719">72231</tspan><tspan x="959">72231</tspan></text>
<text class="t3" y="103"><tspan x="239">0.00%</tspan><tspan x="479">0.00%</tspan><tspan x="719">0.00%</tspan><tspan x="959">0.00%</tspan></text>
</g>

<g id="row23" transform="translate(31.3 3448.3)">
<use href="#grid"/>
<text class="mn" y="-7"><tspan x="0">93</tspan><tspan x="240">94</tspan><tspan x="480">95</tspan><tspan x="720">96</tspan></text>
<text class="t1" y="76.5"><tspan x="239">0</tspan><tspan x="479">0</tspan><tspan x="719">0</tspan><tspan x="959">0</tspan></text>
<text class="t2" y="90"><tspan x="239">72231</tspan><tspan x="479">72231</tspan><tspan x="719">72231</tspan><tspan x="959">72231</tspan></text>
<text class="t3" y="103"><tspan x="239">0.00%</tspan><tspan x="479">0.00%</tspan><tspan x="719">0.00%</tspan><tspan x="959">0.00%</tspan></text>
</g>

<g id="row24" transform="translate(31.3 3589.3)">
<rect class="yb" x="120" y="-11" width="300" height="82"/>
<use href="#grid"/>
<path class="s Ly" d="M240 30H420"/>
<path class="s Lr" d="M720 15H900"/>
<use href="#y" x="0" y="30"/><use href="#b" x="60" y="45"/><use href="#so" x="120" y="60"/><use href="#sb" x="180" y="45"/><use href="#sy" x="240" y="30"/><use href="#r" x="480" y="15"/><use href="#y" x="540" y="30"/><use href="#b" x="600" y="45"/><use href="#y" x="660" y="30"/><use href="#r" x="720" y="15"/>
<rect class="og" x="120" y="-0.5" width="300" height="62"/>
<text class="mn" y="-7"><tspan x="0">97</tspan><tspan x="240">98</tspan><tspan x="480">99</tspan><tspan x="720">100</tspan></text>
<text class="t1" y="76.5"><tspan x="239">100</tspan><tspan x="479">61</tspan><tspan x="719">100</tspan><tspan x="959">61</tspan></text>
<text class="t2" y="90"><tspan x="239">72631</tspan><tspan x="479">72875</tspan><tspan x="719">73275</tspan><tspan x="959">73519</tspan></text>
<text class="t3" y="103"><tspan x="239">0.00%</tspan><tspan x="479">35.20%</tspan><tspan x="719">35.20%</tspan><tspan x="959">35.20%</tspan></text>
</g>

<g id="row25" transform="translate(31.3 3730.3)">
<use href="#grid"/>
<path class="s Lb" d="M0 45H75M90 45H180M240 45H315M330 45H420"/>
<path class="s Lr" d="M480 15H555M570 15H660M720 15H795M810 15H855M870 15H915"/>
<use href="#b" x="0" y="45"/><use href="#b" x="90" y="45"/><use href="#b" x="240" y="45"/><use href="#b" x="330" y="45"/><use href="#r" x="480" y="15"/><use href="#r" x="570" y="15"/><use href="#r" x="720" y="15"/><use href="#r" x="810" y="15"/><use href="#r" x="870" y="15"/><use href="#r" x="930" y="15"/>
<rect class="op" x="930" y="-0.5" width="12" height="62"/>
<rect class="ob" x="942" y="-0.5" width="18" height="62"/>
<text class="mn" y="-7"><tspan x="0">101</tspan><tspan x="240">102</tspan><tspan x="480">103</tspan><tspan x="720">104</tspan></text>
<text class="t1" y="76.5"><tspan x="239">83</tspan><tspan x="479">83</tspan><tspan x="719">83</tspan><tspan x="959">133</tspan></text>
<text class="t2" y="90"><tspan x="239">73851</tspan><tspan x="479">74183</tspan><tspan x="719">74515</tspan><tspan x="959">75147</tspan></text>
<text class="t3" y="103"><tspan x="239">35.20%</tspan><tspan x="479">35.20%</tspan><tspan x="719">35.20%</tspan><tspan x="959">34.31%</tspan></text>
</g>

<g id="row26" transform="translate(31.3 3871.3)">
<use href="#grid"/>
<path class="s Ly" d="M0 30H45M210 30H255M480 30H525M690 30H735"/>
<path class="s Lb" d="M60 45H105M120 45H165M330 45H375M390 45H435"/>
<path class="s Lo" d="M540 60H585M600 60H645M810 60H855M870 60H915"/>
<use href="#y" x="0" y="30"/><use href="#b" x="60" y="45"/><use href="#b" x="120" y="45"/><use href="#y" x="210" y="30"/><use href="#b" x="270" y="45"/><use href="#y" x="300" y="30"/><use href="#sb" x="330" y="45"/><use href="#sb" x="390" y="45"/><use href="#sb" x="450" y="45"/><use href="#sy" x="480" y="30"/><use href="#so" x="540" y="60"/><use href="#o" x="600" y="60"/><use href="#y" x="690" y="30"/><use href="#o" x="750" y="60"/><use href="#y" x="780" y="30"/><use href="#o" x="810" y="60"/><use href="#o" x="870" y="60"/><use href="#o" x="930" y="60"/>
<rect class="og" x="330" y="-0.5" width="255" height="62"/>
<rect class="ob" x="0" y="-0.5" width="960" height="62"/>
<text class="mn" y="-7"><tspan x="0">105</tspan><tspan x="240">106</tspan><tspan x="480">107</tspan><tspan x="720">108</tspan></text>
<text class="t1" y="76.5"><tspan x="239">133</tspan><tspan x="479">146</tspan><tspan x="719">133</tspan><tspan x="959">146</tspan></text>
<text class="t2" y="90"><tspan x="239">76211</tspan><tspan x="479">77379</tspan><tspan x="719">78443</tspan><tspan x="959">79611</tspan></text>
<text class="t3" y="103"><tspan x="239">21.81%</tspan><tspan x="479">14.41%</tspan><tspan x="719">32.01%</tspan><tspan x="959">19.51%</tspan></text>
</g>

<g id="row27" transform="translate(31.3 4012.3)">
<use href="#grid"/>
<path class="s Lr" d="M0 15H45M210 15H255"/>
<path class="s Lb" d="M60 45H105M120 45H165M330 45H375M390 45H435M540 45H585M600 45H645M840 45H885"/>
<path class="s Lg" d="M480 0H525M690 0H735"/>
<use href="#r" x="0" y="15"/><use href="#b" x="60" y="45"/><use href="#b" x="120" y="45"/><use href="#r" x="210" y="15"/><use href="#b" x="270" y="45"/><use href="#r" x="300" y="15"/><use href="#b" x="330" y="45"/><use href="#b" x="390" y="45"/><use href="#b" x="450" y="45"/><use href="#g" x="480" y="0"/><use href="#b" x="540" y="45"/><use href="#b" x="600" y="45"/><use href="#g" x="690" y="0"/><use href="#b" x="750" y="45"/><use href="#g" x="780" y="0"/><use href="#b" x="810" y="45"/><use href="#b" x="840" y="45"/><use href="#b" x="900" y="45"/>
<rect class="ob" x="0" y="-0.5" width="853.5" height="62"/>
<text class="mn" y="-7"><tspan x="0">109</tspan><tspan x="240">110</tspan><tspan x="480">111</tspan><tspan x="720">112</tspan></text>
<text class="t1" y="76.5"><tspan x="239">133</tspan><tspan x="479">146</tspan><tspan x="719">133</tspan><tspan x="959">137</tspan></text>
<text class="t2" y="90"><tspan x="239">80675</tspan><tspan x="479">81843</tspan><tspan x="719">82907</tspan><tspan x="959">83879</tspan></text>
<text class="t3" y="103"><tspan x="239">7.01%</tspan><tspan x="479">0.00%</tspan><tspan x="719">0.00%</tspan><tspan x="959">0.00%</tspan></text>
</g>

<g id="row28" transform="translate(31.3 4153.3)">
<use href="#grid"/>
<path class="s Ly" d="M0 30H45M210 30H255M480 30H525M690 30H735"/>
<path class="s Lb" d="M60 45H105M120 45H165M330 45H375M390 45H435"/>
<path class="s Lo" d="M540 60H585M600 60H645M810 60H855M870 60H915"/>
<use href="#y" x="0" y="30"/><use href="#b" x="60" y="45"/><use href="#b" x="120" y="45"/><use href="#y" x="210" y="30"/><use href="#b" x="270" y="45"/><use href="#y" x="300" y="30"/><use href="#b" x="330" y="45"/><use href="#b" x="390" y="45"/><use href="#b" x="450" y="45"/><use href="#y" x="480" y="30"/><use href="#o" x="540" y="60"/><use href="#o" x="600" y="60"/><use href="#y" x="690" y="30"/><use href="#o" x="750" y="60"/><use href="#y" x="780" y="30"/><use href="#o" x="810" y="60"/><use href="#o" x="870" y="60"/><use href="#o" x="930" y="60"/>
<text class="mn" y="-7"><tspan x="0">113</tspan><tspan x="240">114</tspan><tspan x="480">115</tspan><tspan x="720">116</tspan></text>
<text class="t1" y="76.5"><tspan x="239">133</tspan><tspan x="479">146</tspan><tspan x="719">133</tspan><tspan x="959">146</tspan></text>
<text class="t2" y="90"><tspan x="239">84411</tspan><tspan x="479">84995</tspan><tspan x="719">85527</tspan><tspan x="959">86111</tspan></text>
<text class="t3" y="103"><tspan x="239">0.00%</tspan><tspan x="479">0.00%</tspan><tspan x="719">0.00%</tspan><tspan x="959">0.00%</tspan></text>
</g>

<g id="row29" transform="translate(31.3 4294.3)">
<use href="#grid"/>
<path class="s Lr" d="M0 15H45M210 15H255"/>
<path class="s Lb" d="M60 45H105M120 45H165M330 45H375M390 45H435M540 45H585M600 45H645M840 45H885"/>
<path class="s Lg" d="M480 0H525M690 0H735"/>
<use href="#r" x="0" y="15"/><use href="#b" x="60" y="45"/><use href="#b" x="120" y="45"/><use href="#r" x="210" y="15"/><use href="#b" x="270" y="45"/><use href="#r" x="300" y="15"/><use href="#b" x="330" y="45"/><use href="#b" x="390" y="45"/><use href="#b" x="450" y="45"/><use href="#g" x="480" y="0"/><use href="#b" x="540" y="45"/><use href="#b" x="600" y="45"/><use href="#g" x="690" y="0"/><use href="#b" x="750" y="45"/><use href="#g" x="780" y="0"/><use href="#b" x="810" y="45"/><use href="#b" x="840" y="45"/><use href="#b" x="900" y="45"/>
<text class="mn" y="-7"><tspan x="0">117</tspan><tspan x="240">118</tspan><tspan x="480">119</tspan><tspan x="720">120</tspan></text>
<text class="t1" y="76.5"><tspan x="239">133</tspan><tspan x="479">146</tspan><tspan x="719">133</tspan><tspan x="959">137</tspan></text>
<text class="t2" y="90"><tspan x="239">86643</tspan><tspan x="479">87227</tspan><tspan x="719">87759</tspan><tspan x="959">88307</tspan></text>
<text class="t3" y="103"><tspan x="239">0.00%</tspan><tspan x="479">0.00%</tspan><tspan x="719">0.00%</tspan><tspan x="959">0.00%</tspan></text>
</g>
</g>
</svg>
